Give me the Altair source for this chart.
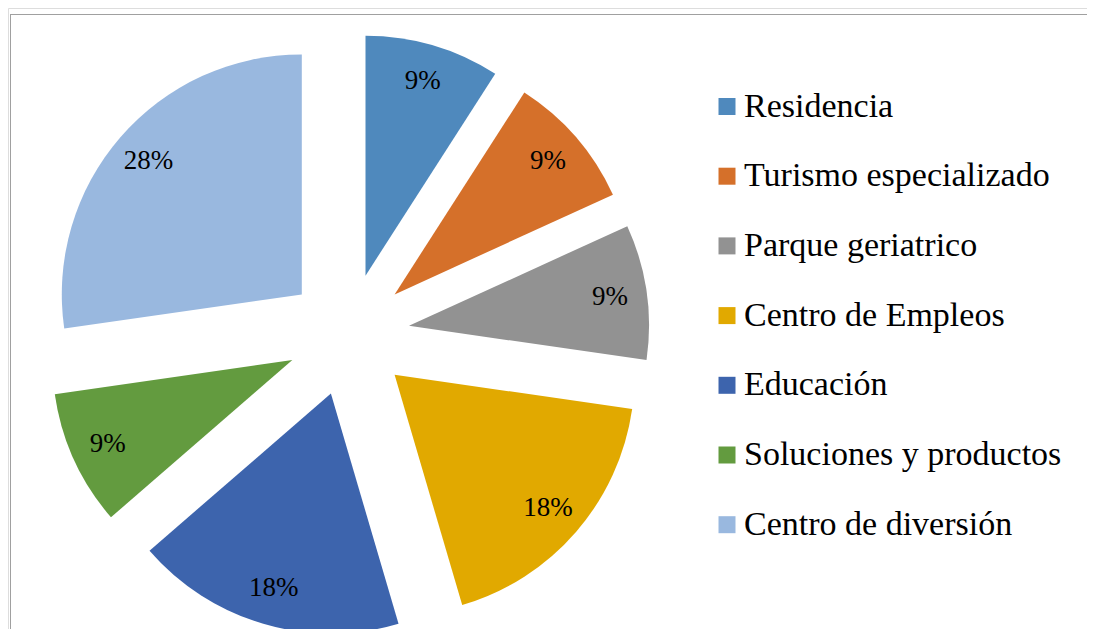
import altair as alt
import pandas as pd

categories = ["Residencia", "Turismo especializado", "Parque geriatrico",
              "Centro de Empleos", "Educación", "Soluciones y productos",
              "Centro de diversión"]
values = [9.1, 9.1, 9.1, 18.2, 18.2, 9.1, 27.3]
pct_labels = ["9%", "9%", "9%", "18%", "18%", "9%", "28%"]
colors = ["#4F89BD", "#D5702A", "#929292", "#E1A900", "#3D64AD", "#639B3F", "#99B8DF"]

df = pd.DataFrame({"category": categories, "value": values, "label": pct_labels,
                   "order": list(range(len(categories)))})

CX, CY = 340.2, 326.6  # pie centre (chart px)
EXPLODE = 61.4         # explosion distance
R = 240                # outer radius
LR = 203               # label radius from slice apex

base = alt.Chart(df).transform_joinaggregate(
    total="sum(value)"
).transform_window(
    cum="sum(value)", sort=[alt.SortField("order")], frame=[None, 0]
).transform_calculate(
    t1="2*PI*datum.cum/datum.total",
    t0="2*PI*(datum.cum-datum.value)/datum.total",
).transform_calculate(
    mid="(datum.t0+datum.t1)/2"
).transform_calculate(
    cx=f"{CX}+{EXPLODE}*sin(datum.mid)",
    cy=f"{CY}-{EXPLODE}*cos(datum.mid)",
).transform_calculate(
    lx=f"datum.cx+{LR}*sin(datum.mid)",
    ly=f"datum.cy-{LR}*cos(datum.mid)",
)

arcs = base.mark_arc(outerRadius=R, innerRadius=0).encode(
    theta=alt.Theta("t0:Q", scale=None, stack=None),
    theta2=alt.Theta2("t1:Q"),
    x=alt.X("cx:Q", scale=None),
    y=alt.Y("cy:Q", scale=None),
    color=alt.Color("category:N",
                    scale=alt.Scale(domain=categories, range=colors),
                    sort=categories,
                    legend=alt.Legend(title=None, orient="none", legendX=702, legendY=81.5,
                                      symbolType="square", symbolSize=289,
                                      symbolStrokeWidth=0, labelFont="Liberation Serif",
                                      labelFontSize=34, labelColor="black",
                                      labelOffset=0, rowPadding=35.7, padding=0,
                                      labelLimit=500)),
)

labels = base.mark_text(font="Liberation Serif", fontSize=27, color="black",
                        align="center", baseline="middle").encode(
    x=alt.X("lx:Q", scale=None),
    y=alt.Y("ly:Q", scale=None),
    text="label:N",
)

top_line = alt.Chart(pd.DataFrame({"a": [0]})).mark_rule(color="#A0A0A0", strokeWidth=1).encode(
    x=alt.value(2), x2=alt.value(1079), y=alt.value(6.5))
left_line = alt.Chart(pd.DataFrame({"a": [0]})).mark_rule(color="#A0A0A0", strokeWidth=1).encode(
    x=alt.value(2.5), y=alt.value(6), y2=alt.value(621))

chart = alt.layer(top_line, left_line, arcs, labels).properties(
    width=1079, height=621, autosize=alt.AutoSizeParams(type="none"), padding=0
).configure_view(strokeWidth=0).configure(background="white")

chart.save("out.html", embed_options={"renderer": "svg", "actions": False})
